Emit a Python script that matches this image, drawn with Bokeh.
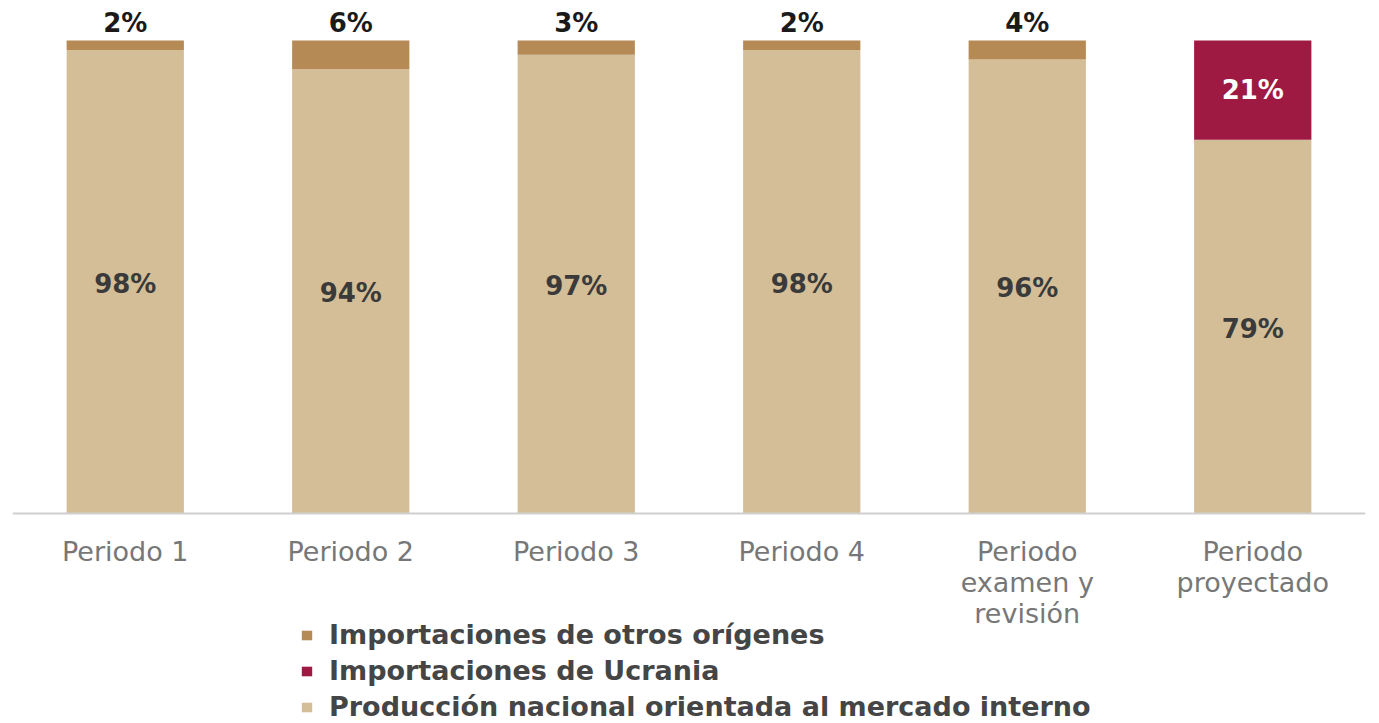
from bokeh.plotting import figure
from bokeh.models import ColumnDataSource, Range1d, FactorRange, Legend, LegendItem, LabelSet, Span
from bokeh.core.properties import value
from bokeh.embed import file_html
from bokeh.resources import INLINE

categories = ["Periodo 1", "Periodo 2", "Periodo 3", "Periodo 4",
              "Periodo\nexamen y\nrevisión", "Periodo\nproyectado"]
otros = [2, 6, 3, 2, 4, 0]
ucrania = [0, 0, 0, 0, 0, 21]
nacional = [98, 94, 97, 98, 96, 79]

series_names = ["Importaciones de otros orígenes", "Importaciones de Ucrania",
                "Producción nacional orientada al mercado interno"]
colors = {"nacional": "#D4BE97", "ucrania": "#9E1A43", "otros": "#B68A55"}
FONT = "DejaVu Sans"

# layout (pixels)
W, H = 1375, 723
BASE_PX = 513          # screen y of value 0
PX_PER_UNIT = 4.73
y_end = BASE_PX / PX_PER_UNIT
y_start = -(H - BASE_PX) / PX_PER_UNIT

src = ColumnDataSource(dict(cat=categories, otros=otros, ucrania=ucrania, nacional=nacional))

p = figure(x_range=FactorRange(*categories), y_range=Range1d(y_start, y_end),
           width=W, height=H, output_backend="svg", toolbar_location=None,
           min_border_left=12, min_border_right=10, min_border_top=0, min_border_bottom=0)
p.outline_line_color = None
p.grid.grid_line_color = None
p.xaxis.visible = False
p.yaxis.visible = False
p.background_fill_color = "white"

r = p.vbar_stack(["nacional", "ucrania", "otros"], x="cat", width=0.52, source=src,
                 color=[colors["nacional"], colors["ucrania"], colors["otros"]],
                 line_color=None)

p.add_layout(Span(location=0, dimension="width", line_color="#cfcfcf", line_width=2))

# category labels (axis-like), one LabelSet per text line so each line is centred
max_lines = max(len(c.split("\n")) for c in categories)
for i in range(max_lines):
    cats, lines = [], []
    for c in categories:
        parts = c.split("\n")
        if i < len(parts):
            cats.append(c)
            lines.append(parts[i])
    p.add_layout(LabelSet(x="cat", y=0, text="t", source=ColumnDataSource(dict(cat=cats, t=lines)),
                          text_align="center", text_baseline="top", y_offset=-22 - 31 * i,
                          text_font=value(FONT), text_font_size="27px", text_color="#777777"))

# value labels
nac_lab = dict(cat=[], y=[], t=[])
ucr_lab = dict(cat=[], y=[], t=[])
top_lab = dict(cat=[], y=[], t=[])
for c, o, u, n in zip(categories, otros, ucrania, nacional):
    nac_lab["cat"].append(c); nac_lab["y"].append(n / 2); nac_lab["t"].append(f"{n}%")
    if u > 0:
        ucr_lab["cat"].append(c); ucr_lab["y"].append(n + u / 2); ucr_lab["t"].append(f"{u}%")
    if o > 0:
        top_lab["cat"].append(c); top_lab["y"].append(n + u + o); top_lab["t"].append(f"{o}%")

p.add_layout(LabelSet(x="cat", y="y", text="t", source=ColumnDataSource(nac_lab),
                      text_align="center", text_baseline="middle", y_offset=-2,
                      text_font=value(FONT), text_font_style="bold", text_font_size="26px",
                      text_color="#3a3a3a"))
p.add_layout(LabelSet(x="cat", y="y", text="t", source=ColumnDataSource(ucr_lab),
                      text_align="center", text_baseline="middle", text_font=value(FONT),
                      text_font_style="bold", text_font_size="26px", text_color="white"))
p.add_layout(LabelSet(x="cat", y="y", text="t", source=ColumnDataSource(top_lab),
                      text_align="center", text_baseline="alphabetic", y_offset=9,
                      text_font=value(FONT), text_font_style="bold", text_font_size="26px",
                      text_color="#1a1a1a"))

legend = Legend(items=[LegendItem(label=series_names[0], renderers=[r[2]]),
                       LegendItem(label=series_names[1], renderers=[r[1]]),
                       LegendItem(label=series_names[2], renderers=[r[0]])],
                location=(288, 1), orientation="vertical",
                label_text_font=FONT, label_text_font_style="bold",
                label_text_font_size="27px", label_text_color="#454545",
                glyph_width=13, glyph_height=12, label_standoff=16,
                spacing=5, padding=0, margin=0, border_line_color=None,
                background_fill_alpha=0, label_height=29)
p.add_layout(legend, "center")

open("out.html", "w").write(file_html(p, INLINE))
